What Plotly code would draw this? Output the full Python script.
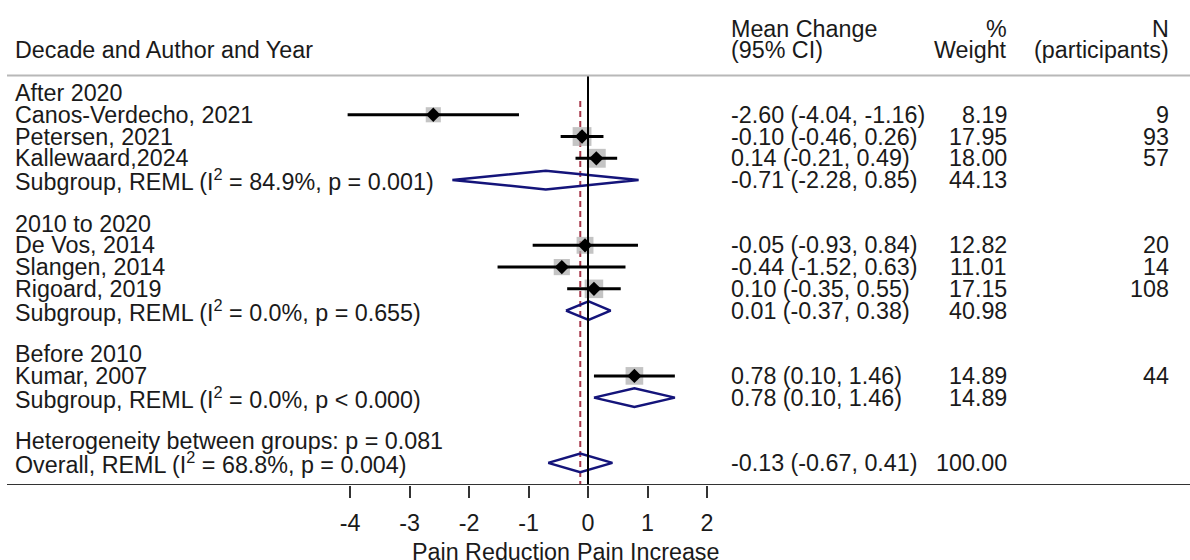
import plotly.graph_objects as go

# ---------------- data ----------------
group_names = ["After 2020", "2010 to 2020", "Before 2010"]
study_labels = ["Canos-Verdecho, 2021", "Petersen, 2021", "Kallewaard,2024",
                "De Vos, 2014", "Slangen, 2014", "Rigoard, 2019",
                "Kumar, 2007"]
study_group = [0, 0, 0, 1, 1, 1, 2]
study_est = [-2.60, -0.10, 0.14, -0.05, -0.44, 0.10, 0.78]
study_lo = [-4.04, -0.46, -0.21, -0.93, -1.52, -0.35, 0.10]
study_hi = [-1.16, 0.26, 0.49, 0.84, 0.63, 0.55, 1.46]
study_weight = [8.19, 17.95, 18.00, 12.82, 11.01, 17.15, 14.89]
study_n = [9, 93, 57, 20, 14, 108, 44]

sub_est = [-0.71, 0.01, 0.78]
sub_lo = [-2.28, -0.37, 0.10]
sub_hi = [0.85, 0.38, 1.46]
sub_weight = [44.13, 40.98, 14.89]
sub_i2 = ["84.9%", "0.0%", "0.0%"]
sub_p = ["p = 0.001", "p = 0.655", "p < 0.000"]

overall_est = -0.13
overall_lo = -0.67
overall_hi = 0.41
overall_weight = 100.00
overall_i2 = "68.8%"
overall_p = "p = 0.004"
het_p = "p = 0.081"

x_ticks = [-4, -3, -2, -1, 0, 1, 2]
x_caption_left = "Pain Reduction"
x_caption_right = "Pain Increase"

# ---------------- styling ----------------
W, H = 1190, 560
FONT = "Liberation Sans, Arial, sans-serif"
FS = 23.3
TXT = "#1a1a1a"
NAVY = "#14147a"
px0 = 588.0      # pixel of x = 0
ppu = 59.5       # pixels per unit
row0 = 93.0      # pixel of first row
rowh = 21.76     # pixels per row
plot_bottom = 485.0


def fx(p):
    return p / W


def ry(p):
    return (p - row0) / rowh


def fmt_ci(e, l, h):
    return f"{e:.2f} ({l:.2f}, {h:.2f})"


# build row layout
rows = []
r = 0
study_rows = [None] * len(study_labels)
sub_rows = [None] * len(group_names)
for g in range(len(group_names)):
    rows.append(("group", g, r)); r += 1
    for i in range(len(study_labels)):
        if study_group[i] == g:
            study_rows[i] = r
            rows.append(("study", i, r)); r += 1
    sub_rows[g] = r
    rows.append(("sub", g, r)); r += 1
    r += 1  # blank
het_row = r
overall_row = r + 1

fig = go.Figure()

# gray weight squares
fig.add_trace(go.Scatter(
    x=study_est, y=study_rows, mode="markers",
    marker=dict(symbol="square", color="#ababab",
                size=[12 + 0.38 * w for w in study_weight], line=dict(width=0)),
    hoverinfo="skip", showlegend=False))

# CI lines
for i in range(len(study_labels)):
    fig.add_trace(go.Scatter(
        x=[study_lo[i], study_hi[i]], y=[study_rows[i], study_rows[i]],
        mode="lines", line=dict(color="black", width=3),
        hoverinfo="skip", showlegend=False))

# point estimates
fig.add_trace(go.Scatter(
    x=study_est, y=study_rows, mode="markers",
    marker=dict(symbol="diamond", color="black", size=11, line=dict(width=0)),
    hoverinfo="skip", showlegend=False))

# diamonds
hh = 0.43


def diamond(e, l, h, rr):
    fig.add_trace(go.Scatter(
        x=[l, e, h, e, l], y=[rr, rr - hh, rr, rr + hh, rr],
        mode="lines", line=dict(color=NAVY, width=2.5),
        hoverinfo="skip", showlegend=False))


for g in range(len(group_names)):
    diamond(sub_est[g], sub_lo[g], sub_hi[g], sub_rows[g])
diamond(overall_est, overall_lo, overall_hi, overall_row)

yr_top = ry(0)
yr_bot = ry(plot_bottom)

shapes = []
shapes.append(dict(type="line", xref="x", yref="y", x0=0, x1=0,
                   y0=ry(75), y1=yr_bot, line=dict(color="black", width=2), layer="above"))
shapes.append(dict(type="line", xref="x", yref="y", x0=overall_est, x1=overall_est,
                   y0=ry(101), y1=yr_bot,
                   line=dict(color="#a8384c", width=2, dash="6px,4px"), layer="below"))
shapes.append(dict(type="line", xref="paper", yref="y", x0=fx(7), x1=1,
                   y0=ry(75.5), y1=ry(75.5), line=dict(color="#b8b8b8", width=2)))
shapes.append(dict(type="line", xref="paper", yref="y", x0=fx(7), x1=1,
                   y0=yr_bot, y1=yr_bot, line=dict(color="#333333", width=2)))

ann = []


def text(x, y, s, anchor, yref="y"):
    ann.append(dict(x=fx(x), y=y, xref="paper", yref=yref, text=s, showarrow=False,
                    xanchor=anchor, yanchor="middle",
                    font=dict(family=FONT, size=FS, color=TXT)))


X_LAB, X_CI, X_W, X_N = 13, 729, 1009, 1171
text(X_LAB, ry(49.5), "Decade and Author and Year", "left")
text(X_CI, ry(29), "Mean Change", "left")
text(X_CI, ry(49.5), "(95% CI)", "left")
text(X_W, ry(29), "%", "right")
text(X_W, ry(49.5), "Weight", "right")
text(X_N, ry(29), "N", "right")
text(X_N, ry(49.5), "(participants)", "right")

for kind, idx, rr in rows:
    if kind == "group":
        text(X_LAB, rr, group_names[idx], "left")
    elif kind == "study":
        text(X_LAB, rr, study_labels[idx], "left")
        text(X_CI, rr, fmt_ci(study_est[idx], study_lo[idx], study_hi[idx]), "left")
        text(X_W, rr, f"{study_weight[idx]:.2f}", "right")
        text(X_N, rr, str(study_n[idx]), "right")
    else:
        text(X_LAB, rr, f"Subgroup, REML (I<sup>2</sup> = {sub_i2[idx]}, {sub_p[idx]})", "left")
        text(X_CI, rr, fmt_ci(sub_est[idx], sub_lo[idx], sub_hi[idx]), "left")
        text(X_W, rr, f"{sub_weight[idx]:.2f}", "right")

text(X_LAB, het_row, f"Heterogeneity between groups: {het_p}", "left")
text(X_LAB, overall_row, f"Overall, REML (I<sup>2</sup> = {overall_i2}, {overall_p})", "left")
text(X_CI, overall_row, fmt_ci(overall_est, overall_lo, overall_hi), "left")
text(X_W, overall_row, f"{overall_weight:.2f}", "right")

# axis caption (paper coordinates, below the plot area)
cap_y = (plot_bottom - 552) / plot_bottom
text(px0 - 16, cap_y, x_caption_left, "right", yref="paper")
text(px0 - 13, cap_y, x_caption_right, "left", yref="paper")

fig.update_layout(
    width=W, height=H,
    margin=dict(l=0, r=0, t=0, b=H - plot_bottom, pad=0),
    plot_bgcolor="white", paper_bgcolor="white",
    showlegend=False,
    shapes=shapes, annotations=ann,
    xaxis=dict(range=[-px0 / ppu, (W - px0) / ppu], tickmode="array",
               tickvals=x_ticks, ticktext=[str(t) for t in x_ticks],
               ticks="outside", ticklen=12, tickwidth=2, tickcolor="#333333",
               showgrid=False, zeroline=False, showline=False,
               ticklabelstandoff=5,
               tickfont=dict(family=FONT, size=FS, color=TXT), fixedrange=True),
    yaxis=dict(range=[yr_bot, yr_top], showgrid=False, zeroline=False,
               showline=False, showticklabels=False, ticks="", fixedrange=True),
)

fig.write_html("out.html")
